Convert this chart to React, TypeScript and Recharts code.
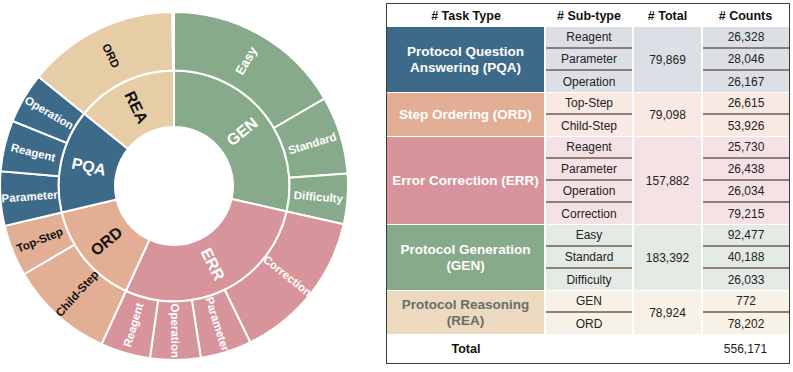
import React from 'react';
import { PieChart, Pie, Cell } from 'recharts';

// task types, in table order
const taskCodes = ['PQA', 'ORD', 'ERR', 'GEN', 'REA'];
const taskNames = [
  'Protocol Question\nAnswering (PQA)',
  'Step Ordering (ORD)',
  'Error Correction (ERR)',
  'Protocol Generation\n(GEN)',
  'Protocol Reasoning\n(REA)'
];
const subTypes = [
  ['Reagent', 'Parameter', 'Operation'],
  ['Top-Step', 'Child-Step'],
  ['Reagent', 'Parameter', 'Operation', 'Correction'],
  ['Easy', 'Standard', 'Difficulty'],
  ['GEN', 'ORD']
];
const subCounts = [
  [26328, 28046, 26167],
  [26615, 53926],
  [25730, 26438, 26034, 79215],
  [92477, 40188, 26033],
  [772, 78202]
];
const taskTotals = [79869, 79098, 157882, 183392, 78924];
const grandTotal = 556171;
const headers = ['# Task Type', '# Sub-type', '# Total', '# Counts'];

// clockwise order in the sunburst (GEN, ERR, ORD, PQA, REA)
const pieOrder = [3, 2, 1, 0, 4];

const pieColors = ['#3E6A8A', '#E2AE94', '#D7949B', '#87AA8A', '#E6CDA6'];
const pieTextColors = ['#ffffff', '#111111', '#ffffff', '#ffffff', '#111111'];
const cellColors = ['#3E6A8A', '#E2AE96', '#D7949B', '#87AA8A', '#EBDAC0'];
const cellTextColors = ['#ffffff', '#ffffff', '#ffffff', '#ffffff', '#6b6b6b'];
const lightColors = ['#DCE0E6', '#F8E9E3', '#F5E2E5', '#E4EBE5', '#F8F1E6'];

const FONT = '"Liberation Sans", Arial, sans-serif';
const RADIAN = Math.PI / 180;
const sum = (a: number[]) => a.reduce((s, v) => s + v, 0);
const fmt = (v: number) => v.toLocaleString('en-US');

const innerData = pieOrder.map((g) => ({ name: taskCodes[g], value: sum(subCounts[g]), g }));
const outerData = pieOrder.flatMap((g) =>
  subTypes[g]
    .map((s, j) => ({ name: s, value: subCounts[g][j], g }))
    .sort((a, b) => b.value - a.value)
);
const pieTotal = sum(innerData.map((d) => d.value));

// plotly shrinks labels to fit; the roomy "Easy" slice keeps a bigger font
const labelSize = (name: string, base: number) => (base < 14 && name === 'Easy' ? 13 : base);

const makeLabel = (data: any[], size: number) => (props: any) => {
  const { cx, cy, midAngle, innerRadius, outerRadius, index } = props;
  const d = data[index];
  if (!d || d.value / pieTotal < 0.01) return null;
  const r = (innerRadius + outerRadius) / 2;
  const x = cx + r * Math.cos(-midAngle * RADIAN);
  const y = cy + r * Math.sin(-midAngle * RADIAN);
  let rot = -midAngle;
  rot = (((rot % 360) + 540) % 360) - 180;
  if (rot > 90) rot -= 180;
  else if (rot < -90) rot += 180;
  return (
    <text
      key={`lbl-${index}`}
      x={x}
      y={y}
      fill={pieTextColors[d.g]}
      fontSize={labelSize(d.name, size)}
      fontWeight="bold"
      fontFamily={FONT}
      textAnchor="middle"
      dominantBaseline="central"
      transform={`rotate(${rot}, ${x}, ${y})`}
    >
      {d.name}
    </text>
  );
};

// table geometry
const colX = [387, 545, 633, 702, 789];
const TOP = 4;
const HEAD_H = 23;
const ROW_H = 22;
const TOTAL_H = 28;

const SummaryTable = () => {
  const cells: React.ReactNode[] = [];
  let y = TOP + HEAD_H;
  taskCodes.forEach((code, g) => {
    const n = subTypes[g].length;
    const h = n * ROW_H;
    cells.push(
      <div
        key={`task-${code}`}
        style={{
          position: 'absolute', left: colX[0], top: y, width: colX[1] - colX[0] - 1, height: h - 1,
          background: cellColors[g], color: cellTextColors[g], display: 'flex', alignItems: 'center',
          justifyContent: 'center', textAlign: 'center', fontWeight: 'bold', fontSize: 13.5,
          lineHeight: '16px', whiteSpace: 'pre-line'
        }}
      >
        {taskNames[g]}
      </div>
    );
    cells.push(
      <div
        key={`total-${code}`}
        style={{
          position: 'absolute', left: colX[2] + 1, top: y, width: colX[3] - colX[2] - 2, height: h - 1,
          background: lightColors[g], display: 'flex', alignItems: 'center', justifyContent: 'center',
          fontSize: 12, color: '#222'
        }}
      >
        {fmt(taskTotals[g])}
      </div>
    );
    subTypes[g].forEach((s, j) => {
      const ry = y + j * ROW_H;
      const last = j === n - 1;
      const cellStyle: React.CSSProperties = {
        position: 'absolute', top: ry, height: last ? ROW_H - 1 : ROW_H - 2,
        background: lightColors[g], display: 'flex', alignItems: 'center', justifyContent: 'center',
        fontSize: 12, color: '#222',
        borderBottom: last ? 'none' : '2px solid #8E7F7B'
      };
      cells.push(
        <div key={`sub-${code}-${j}`} style={{ ...cellStyle, left: colX[1] + 1, width: colX[2] - colX[1] - 2 }}>
          {s}
        </div>
      );
      cells.push(
        <div key={`cnt-${code}-${j}`} style={{ ...cellStyle, left: colX[3] + 1, width: colX[4] - colX[3] - 1 }}>
          {fmt(subCounts[g][j])}
        </div>
      );
    });
    y += h;
  });

  return (
    <div style={{ position: 'absolute', left: 0, top: 0, width: 793, height: 372, fontFamily: FONT }}>
      {headers.map((h, i) => (
        <div
          key={h}
          style={{
            position: 'absolute', left: colX[i], top: TOP, width: colX[i + 1] - colX[i], height: HEAD_H,
            display: 'flex', alignItems: 'center', justifyContent: 'center', fontWeight: 'bold',
            fontSize: 12.5, color: '#111'
          }}
        >
          {h}
        </div>
      ))}
      {cells}
      <div
        style={{
          position: 'absolute', left: colX[0], top: y, width: colX[1] - colX[0], height: TOTAL_H,
          display: 'flex', alignItems: 'center', justifyContent: 'center', fontWeight: 'bold',
          fontSize: 12.5, color: '#111'
        }}
      >
        Total
      </div>
      <div
        style={{
          position: 'absolute', left: colX[3], top: y, width: colX[4] - colX[3], height: TOTAL_H,
          display: 'flex', alignItems: 'center', justifyContent: 'center', fontSize: 12, color: '#222'
        }}
      >
        {fmt(grandTotal)}
      </div>
      {/* outer border */}
      <div
        style={{
          position: 'absolute', left: colX[0] - 1, top: TOP - 1, width: colX[4] - colX[0] + 2,
          height: y + TOTAL_H - TOP + 2, boxSizing: 'border-box', border: '1.5px solid #3a3a3a'
        }}
      />
    </div>
  );
};

const App: React.FC = () => {
  return (
    <div style={{ position: 'absolute', left: 0, top: 0, width: 793, height: 372, background: '#fff' }}>
      <div style={{ position: 'absolute', left: 0, top: 0 }}>
        <PieChart width={350} height={372} margin={{ top: 0, right: 0, bottom: 0, left: 0 }}>
          <Pie
            data={innerData}
            dataKey="value"
            cx={174}
            cy={186}
            innerRadius={59}
            outerRadius={115.5}
            startAngle={90}
            endAngle={-270}
            stroke="#ffffff"
            strokeWidth={2}
            labelLine={false}
            label={makeLabel(innerData, 16)}
            isAnimationActive={false}
          >
            {innerData.map((d) => (
              <Cell key={`in-${d.name}`} fill={pieColors[d.g]} />
            ))}
          </Pie>
          <Pie
            data={outerData}
            dataKey="value"
            cx={174}
            cy={186}
            innerRadius={115.5}
            outerRadius={174}
            startAngle={90}
            endAngle={-270}
            stroke="#ffffff"
            strokeWidth={2}
            labelLine={false}
            label={makeLabel(outerData, 11.5)}
            isAnimationActive={false}
          >
            {outerData.map((d, i) => (
              <Cell key={`out-${i}`} fill={pieColors[d.g]} />
            ))}
          </Pie>
        </PieChart>
      </div>
      <SummaryTable />
    </div>
  );
};

export default App;
